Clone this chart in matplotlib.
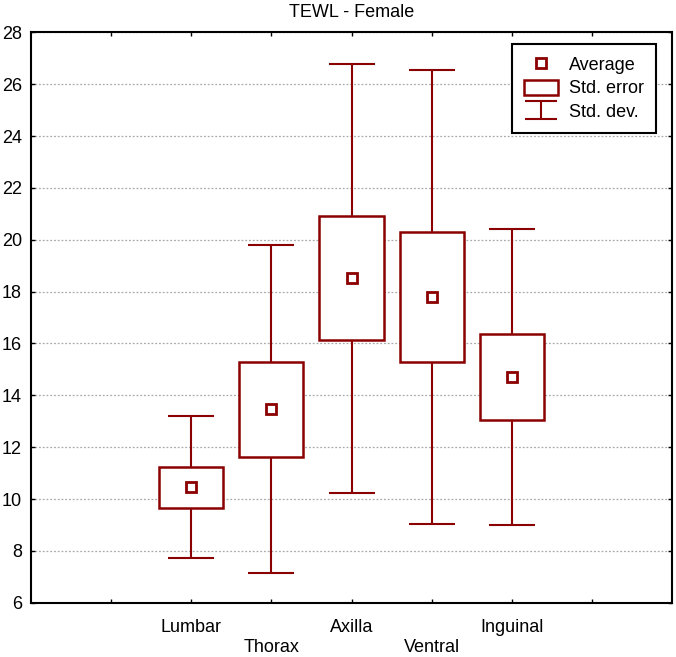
import matplotlib
matplotlib.use("Agg")
from matplotlib import pyplot as plt
from matplotlib.lines import Line2D
from matplotlib.patches import Patch
from matplotlib.path import Path

plt.rcParams['font.family'] = ['Liberation Sans', 'DejaVu Sans']

categories = ["Lumbar", "Thorax", "Axilla", "Ventral", "Inguinal"]
means = [10.45, 13.46, 18.52, 17.79, 14.70]
std_err = [0.79, 1.83, 2.38, 2.52, 1.66]
std_dev = [2.74, 6.32, 8.27, 8.75, 5.70]

red = '#8B0000'

fig = plt.figure(figsize=(6.76, 6.57), dpi=100)
ax = fig.add_axes([0.0459, 0.0826, 0.9482, 0.8681])

x = list(range(2, 2 + len(categories)))
lo_box = [m - s for m, s in zip(means, std_err)]
box_h = [2 * s for s in std_err]

ax.errorbar(x, means, yerr=std_dev, fmt='none', ecolor=red, elinewidth=1.5,
            capsize=16.5, capthick=1.5, zorder=2)
ax.bar(x, box_h, bottom=lo_box, width=0.8, facecolor='white', edgecolor=red,
       linewidth=1.8, zorder=3)
ax.plot(x, means, linestyle='none', marker='s', markersize=7, markerfacecolor='white',
        markeredgecolor=red, markeredgewidth=2, zorder=4)

ax.set_xlim(0, 8)
ax.set_ylim(6, 28)
ax.set_yticks(range(6, 29, 2))
labels = [''] + [c if i % 2 == 0 else '\n' + c for i, c in enumerate(categories)] + ['']
ax.set_xticks(range(1, 8))
ax.set_xticklabels(labels)
ax.tick_params(direction='in', top=True, right=True, length=3, width=1,
               labelsize=13, colors='black')
ax.tick_params(axis='y', pad=6.5)
ax.tick_params(axis='x', pad=12)
ax.grid(axis='y', linestyle=(0, (1.5, 1.5)), color='#aaaaaa', linewidth=0.9, zorder=0)
ax.set_axisbelow(True)
for s in ax.spines.values():
    s.set_linewidth(1.5)

ax.set_title("TEWL - Female", fontsize=13, pad=11)

# legend handles
ibeam = Path([(-0.5, 0.28), (0.5, 0.28), (0, 0.28), (0, -0.28), (-0.5, -0.28), (0.5, -0.28)],
             [Path.MOVETO, Path.LINETO, Path.MOVETO, Path.LINETO, Path.MOVETO, Path.LINETO])
h_avg = Line2D([], [], linestyle='none', marker='s', markersize=7, markerfacecolor='white',
               markeredgecolor=red, markeredgewidth=2)
h_se = Patch(facecolor='white', edgecolor=red, linewidth=1.8)
h_sd = Line2D([], [], linestyle='none', marker=ibeam, markersize=23, markerfacecolor='none',
              markeredgecolor=red, markeredgewidth=1.5)
leg = ax.legend([h_avg, h_se, h_sd], ["Average", "Std. error", "Std. dev."],
                loc='upper right', bbox_to_anchor=(0.975, 0.979), borderaxespad=0,
                fontsize=13, fancybox=False, framealpha=1, edgecolor='black',
                handlelength=1.9, handleheight=0.9, handletextpad=0.6,
                labelspacing=0.32, borderpad=0.65, numpoints=1)
leg.get_frame().set_linewidth(1.5)

fig.savefig("out.png", dpi=100)
